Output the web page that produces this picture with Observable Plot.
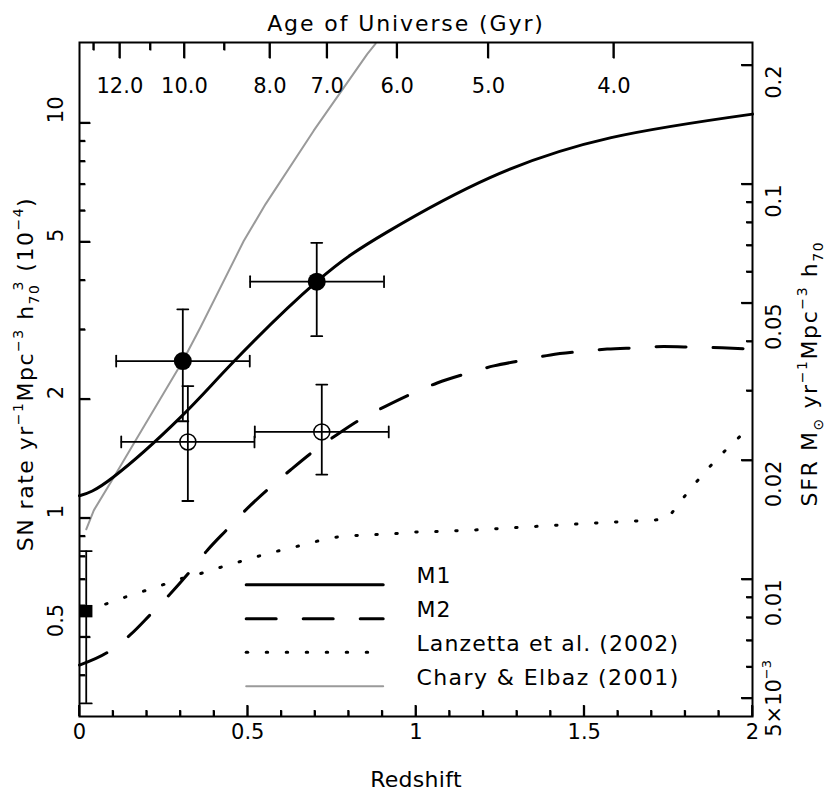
<!DOCTYPE html>
<html><head><meta charset="utf-8">
<script src="https://cdn.jsdelivr.net/npm/d3@7"></script>
<script src="https://cdn.jsdelivr.net/npm/@observablehq/plot@0.6"></script>
<style>
html,body{margin:0;padding:0;background:#fff;}
svg{background:#fff;}
svg text{font-family:"DejaVu Sans",sans-serif;}
</style></head><body><div id="chart"></div>
<script>
// ---------- data ----------
const m1Z = [0, 0.1, 0.3, 0.46, 0.705, 0.914, 1.22, 1.58, 2.0];
const m1V = [1.14, 1.27, 1.80, 2.50, 3.97, 5.30, 7.28, 9.19, 10.54];

const m2Z = [0, 0.082, 0.152, 0.211, 0.270, 0.330, 0.380, 0.439, 0.498, 0.563, 0.627, 0.692, 0.766, 0.835, 0.909, 0.989, 1.063, 1.147, 1.231, 1.316, 1.40, 1.484, 1.568, 1.657, 1.736, 1.825, 1.909, 2.0];
const m2V = [0.425, 0.457, 0.508, 0.571, 0.644, 0.736, 0.830, 0.938, 1.058, 1.19, 1.325, 1.47, 1.63, 1.78, 1.92, 2.07, 2.20, 2.32, 2.43, 2.51, 2.59, 2.64, 2.68, 2.70, 2.72, 2.71, 2.70, 2.68];

const lanzZ = [0.02, 0.067, 0.122, 0.181, 0.238, 0.295, 0.352, 0.409, 0.466, 0.523, 0.581, 0.640, 0.699, 0.756, 0.815, 0.875, 0.934, 0.994, 1.056, 1.174, 1.294, 1.412, 1.533, 1.652, 1.746, 1.795, 1.833, 1.873, 1.914, 1.959, 2.0];
const lanzV = [0.59, 0.602, 0.626, 0.65, 0.674, 0.701, 0.721, 0.747, 0.772, 0.798, 0.823, 0.846, 0.872, 0.895, 0.904, 0.909, 0.914, 0.923, 0.925, 0.934, 0.947, 0.960, 0.973, 0.984, 0.994, 1.128, 1.235, 1.351, 1.47, 1.60, 1.72];

const charyZ = [0.02, 0.0425, 0.102, 0.164, 0.307, 0.36, 0.488, 0.553, 0.696, 0.855, 0.88];
const charyV = [0.938, 1.047, 1.27, 1.56, 2.50, 3.05, 5.03, 6.24, 9.57, 14.95, 15.9];

// filled points
const fillZ = [0.307, 0.705], fillV = [2.50, 3.97];
const fillZlo = [0.109, 0.507], fillZhi = [0.506, 0.905];
const fillVlo = [1.76, 2.89], fillVhi = [3.38, 4.98];
// open points
const openZ = [0.322, 0.72], openV = [1.56, 1.654];
const openZlo = [0.124, 0.521], openZhi = [0.52, 0.919];
const openVlo = [1.106, 1.29], openVhi = [2.16, 2.18];
// local point (square)
const sqZ = [0.02], sqV = [0.582], sqVlo = [0.34], sqVhi = [0.826];

// axes
const X_DOMAIN = [0, 2];
const Y_DOMAIN = [0.315, 16];
const xMajor = [0, 0.5, 1, 1.5, 2];
const xLabels = ["0", "0.5", "1", "1.5", "2"];
const xMinor = [0.1,0.2,0.3,0.4,0.6,0.7,0.8,0.9,1.1,1.2,1.3,1.4,1.6,1.7,1.8,1.9];
const snMajor = [0.5, 1, 2, 5, 10];
const snLabels = ["0.5", "1", "2", "5", "10"];
const snMinor = [0.4, 0.6, 0.7, 0.8, 0.9, 3, 4, 6, 7, 8, 9];
const sfrMajor = [0.005, 0.01, 0.02, 0.05, 0.1, 0.2];
const sfrLabels = ["5×10−3", "0.01", "0.02", "0.05", "0.1", "0.2"];
const sfrMinor = [0.006, 0.007, 0.008, 0.009, 0.03, 0.04, 0.06, 0.07, 0.08, 0.09];
const SFR_TO_SN = 70;
const ageLabels = ["12.0", "10.0", "8.0", "7.0", "6.0", "5.0", "4.0"];
const ageMajorZ = [0.120, 0.312, 0.566, 0.736, 0.944, 1.215, 1.588];
const ageMinorZ = [0.0425, 0.211, 0.431];

const legendLabels = ["M1", "M2", "Lanzetta et al. (2002)", "Chary & Elbaz (2001)"];

const titleText = "Age of Universe (Gyr)";
const xTitle = "Redshift";
const leftTitle = "SN rate yr−1Mpc−3 h703 (10−4)";
const rightTitle = "SFR M⊙ yr−1Mpc−3 h70";

// ---------- layout ----------
const W = 830, H = 795, ML = 79, MR = 78, MT = 42, MB = 79;
const FW = W - ML - MR, FH = H - MT - MB;

// ---------- build ----------
const zip = (Z, V) => Z.map((z, i) => ({z, v: V[i]}));
const m1 = zip(m1Z, m1V), m2 = zip(m2Z, m2V), lanz = zip(lanzZ, lanzV), chary = zip(charyZ, charyV);
const filled = fillZ.map((z, i) => ({z, v: fillV[i], zlo: fillZlo[i], zhi: fillZhi[i], vlo: fillVlo[i], vhi: fillVhi[i]}));
const open = openZ.map((z, i) => ({z, v: openV[i], zlo: openZlo[i], zhi: openZhi[i], vlo: openVlo[i], vhi: openVhi[i]}));
const sq = sqZ.map((z, i) => ({z, v: sqV[i], vlo: sqVlo[i], vhi: sqVhi[i]}));
const xErr = filled.concat(open);
const yErr = filled.concat(open, sq);

const seg = {draw(c, l) { c.moveTo(0, 0); c.lineTo(0, -l); }};
const EW = 1.8, TW = 1.8;
const cap = (data, o) => Plot.vector(data, {shape: seg, anchor: "middle", length: 11, stroke: "black", strokeWidth: EW, ...o});

// tick geometry: pixel lengths expressed through the scales
const xSpan = X_DOMAIN[1] - X_DOMAIN[0];
const yRatio = Y_DOMAIN[1] / Y_DOMAIN[0];
const xIn = px => px / FW * xSpan;
const yMul = px => Math.pow(yRatio, px / FH);

// one row per tick: {x1, y1, x2, y2} in data units
const ticksBottom = (a, len) => a.map(t => ({x1: t, x2: t, y1: Y_DOMAIN[0], y2: Y_DOMAIN[0] * yMul(len)}));
const ticksTop = (a, len) => a.map(t => ({x1: t, x2: t, y1: Y_DOMAIN[1], y2: Y_DOMAIN[1] / yMul(len)}));
const ticksLeft = (a, len, k = 1) => a.map(t => ({x1: X_DOMAIN[0], x2: X_DOMAIN[0] + xIn(len), y1: t * k, y2: t * k}));
const ticksRight = (a, len, k = 1) => a.map(t => ({x1: X_DOMAIN[1], x2: X_DOMAIN[1] - xIn(len), y1: t * k, y2: t * k}));
const allTicks = [].concat(
  ticksBottom(xMajor, 11), ticksBottom(xMinor, 6),
  ticksTop(ageMajorZ, 16), ticksTop(ageMinorZ, 8),
  ticksLeft(snMajor, 11), ticksLeft(snMinor, 6),
  ticksRight(sfrMajor, 11, SFR_TO_SN), ticksRight(sfrMinor, 6, SFR_TO_SN)
);
// thin filled rectangles for the same ticks
const hw = TW / 2;
const tickRects = allTicks.map(d => d.x1 === d.x2
  ? {x1: d.x1 - xIn(hw), x2: d.x1 + xIn(hw), y1: Math.min(d.y1, d.y2), y2: Math.max(d.y1, d.y2)}
  : {x1: Math.min(d.x1, d.x2), x2: Math.max(d.x1, d.x2), y1: d.y1 / yMul(hw), y2: d.y1 * yMul(hw)});

const FB = H - MB; // frame bottom in px (for legend offsets)
const legY = [584.3, 618.3, 651.7, 685.7].map(y => y - FB);
const legStyles = [
  {stroke: "black", strokeWidth: 3},
  {stroke: "black", strokeWidth: 3, strokeDasharray: "30,27"},
  {stroke: "black", strokeWidth: 3, strokeDasharray: "1.5,18.5", strokeLinecap: "round"},
  {stroke: "#9a9a9a", strokeWidth: 2}
];

const marks = [
  Plot.line(chary, {x: "z", y: "v", stroke: "#9a9a9a", strokeWidth: 2, clip: true}),
  Plot.line(lanz, {x: "z", y: "v", stroke: "black", strokeWidth: 3, strokeDasharray: "1.5,18.5", strokeLinecap: "round"}),
  Plot.line(m2, {x: "z", y: "v", stroke: "black", strokeWidth: 3, strokeDasharray: "30,27", curve: "monotone-x"}),
  Plot.line(m1, {x: "z", y: "v", stroke: "black", strokeWidth: 3, curve: "natural"}),
  // error bars
  Plot.ruleX(yErr, {x: "z", y1: "vlo", y2: "vhi", stroke: "black", strokeWidth: EW}),
  Plot.ruleY(xErr, {y: "v", x1: "zlo", x2: "zhi", stroke: "black", strokeWidth: EW}),
  cap(yErr, {x: "z", y: "vlo", rotate: 90}),
  cap(yErr, {x: "z", y: "vhi", rotate: 90}),
  cap(xErr, {x: "zlo", y: "v", rotate: 0}),
  cap(xErr, {x: "zhi", y: "v", rotate: 0}),
  Plot.dot(filled, {x: "z", y: "v", r: 9, fill: "black"}),
  Plot.dot(open, {x: "z", y: "v", r: 8, stroke: "black", strokeWidth: 1.5, fill: "none"}),
  Plot.dot(sq, {x: "z", y: "v", r: 7, symbol: "square", fill: "black"}),
  Plot.frame({stroke: "black", strokeWidth: 2}),
  // tick labels
  Plot.text(xMajor, {x: d => d, frameAnchor: "bottom", dy: 22, text: (d, i) => xLabels[i], fontSize: 21}),
  Plot.text(ageMajorZ, {x: d => d, frameAnchor: "top", dy: 35.5, text: (d, i) => ageLabels[i], fontSize: 21}),
  Plot.text(snMajor, {y: d => d, frameAnchor: "left", dx: -23, rotate: -90, text: (d, i) => snLabels[i], fontSize: 21}),
  Plot.text(sfrMajor, {y: d => d * SFR_TO_SN, frameAnchor: "right", dx: 21.5, rotate: -90, text: (d, i) => sfrLabels[i], fontSize: 21}),
  // titles
  Plot.text([titleText], {frameAnchor: "top", dy: -27, dx: -10, text: d => d, fontSize: 22}),
  Plot.text([xTitle], {frameAnchor: "bottom", dy: 70, text: d => d, fontSize: 22}),
  Plot.text([leftTitle], {frameAnchor: "left", dx: -54, dy: -9, rotate: -90, text: d => d, fontSize: 22}),
  Plot.text([rightTitle], {frameAnchor: "right", dx: 57.5, dy: -6, rotate: -90, text: d => d, fontSize: 22}),
  // legend
  ...legendLabels.map((lab, i) => Plot.vector([lab], {frameAnchor: "bottom-left", dx: 166.7, dy: legY[i], length: 137, rotate: 90, anchor: "start", shape: seg, ...legStyles[i]})),
  ...legendLabels.map((lab, i) => Plot.text([lab], {frameAnchor: "bottom-left", dx: 337, dy: legY[i] - 1.5, text: d => d, textAnchor: "start", fontSize: 22})),
  // tick marks, drawn last (links + thin rects for the same ticks)
  Plot.rect(tickRects, {x1: "x1", x2: "x2", y1: "y1", y2: "y2", fill: "black"}),
  Plot.link(allTicks, {x1: "x1", y1: "y1", x2: "x2", y2: "y2", stroke: "black", strokeWidth: TW})
];

const chart = Plot.plot({
  width: W, height: H,
  marginLeft: ML, marginRight: MR, marginTop: MT, marginBottom: MB,
  x: {domain: X_DOMAIN, axis: null},
  y: {type: "log", domain: Y_DOMAIN, axis: null},
  marks
});
document.getElementById("chart").appendChild(chart);

// rich text (super/subscripts) and spacing
const rich = {
  [leftTitle]: [["SN rate yr"], ["−1", "sup"], ["Mpc"], ["−3", "sup"], [" h"], ["70", "sub"], ["3", "sup", -7], [" (10"], ["−4", "sup"], [")"]],
  [rightTitle]: [["SFR M"], ["⊙", "sub"], [" yr"], ["−1", "sup"], ["Mpc"], ["−3", "sup"], [" h"], ["70", "sub"]],
  "5×10−3": [["5×10"], ["−3", "sup"]]
};
const spacing = {
  [titleText]: 1.9, [leftTitle]: 1.5, [rightTitle]: 1.6, [xTitle]: 0.3,
  "M1": 1.1, "M2": 1.1, "Lanzetta et al. (2002)": 1.1, "Chary & Elbaz (2001)": 1.4
};
d3.select(chart).selectAll("text").each(function () {
  const s = this.textContent;
  if (spacing[s] !== undefined) this.style.letterSpacing = spacing[s] + "px";
  const segs = rich[s];
  if (!segs) return;
  const small = s === "5×10−3" ? 13 : 14;
  this.textContent = "";
  let cur = 0;
  for (const [txt, type, ddx] of segs) {
    const ts = document.createElementNS("http://www.w3.org/2000/svg", "tspan");
    const target = type === "sup" ? -10 : type === "sub" ? 6 : 0;
    if (target !== cur) ts.setAttribute("dy", target - cur);
    cur = target;
    if (type) ts.setAttribute("font-size", small + "px");
    if (ddx) ts.setAttribute("dx", ddx);
    ts.textContent = txt;
    this.appendChild(ts);
  }
  this.style.textAnchor = "start";
  const len = this.getComputedTextLength();
  this.setAttribute("x", (-len / 2).toFixed(1));
});
</script></body></html>
